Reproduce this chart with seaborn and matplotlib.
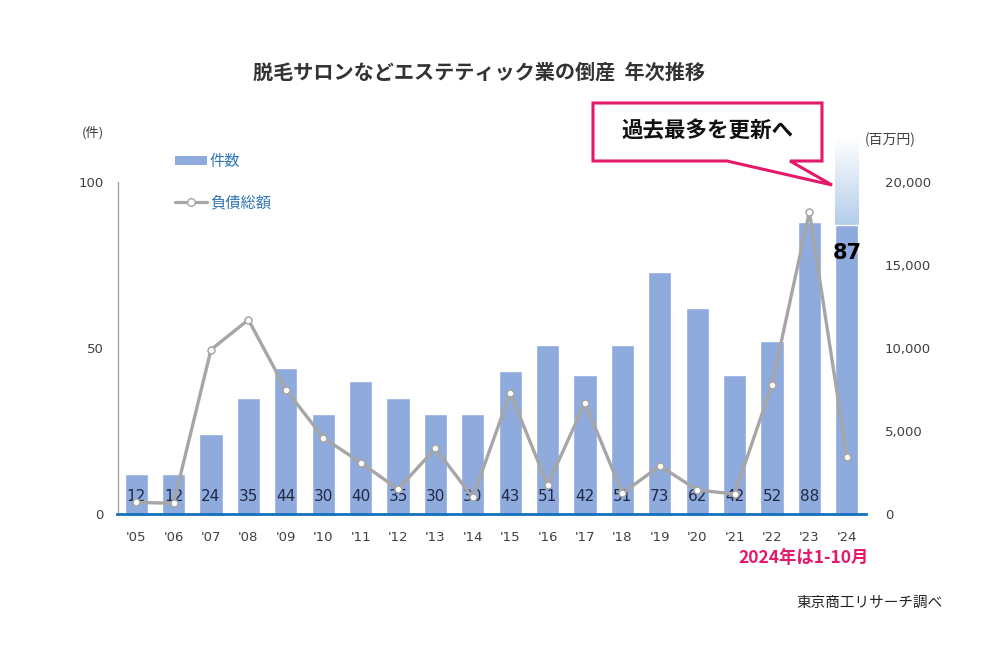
import numpy as np
import pandas as pd
import matplotlib
matplotlib.use("Agg")
import matplotlib.pyplot as plt
from matplotlib.patches import Polygon, Patch
from matplotlib.lines import Line2D
from matplotlib.colors import LinearSegmentedColormap
import seaborn as sns

years = ["'05", "'06", "'07", "'08", "'09", "'10", "'11", "'12", "'13", "'14",
         "'15", "'16", "'17", "'18", "'19", "'20", "'21", "'22", "'23", "'24"]
counts = [12, 12, 24, 35, 44, 30, 40, 35, 30, 30,
          43, 51, 42, 51, 73, 62, 42, 52, 88, 87]
debt = [700, 650, 9900, 11700, 7500, 4600, 3100, 1500, 3950, 1000,
        7300, 1750, 6700, 1250, 2900, 1450, 1200, 7800, 18200, 3450]
left_ticks = [0, 50, 100]
right_ticks = [0, 5000, 10000, 15000, 20000]

df = pd.DataFrame({"year": years, "count": counts, "debt": debt})

sns.set_theme(style="white")
CJK = ["Noto Sans CJK JP", "DejaVu Sans"]
NUM = ["DejaVu Sans", "Noto Sans CJK JP"]
plt.rcParams["font.family"] = CJK

BAR = "#8FAADC"
GRAY = "#A6A6A6"
TXT = "#404040"
PINK = "#E5196A"
LEG = "#2E75B6"

fig = plt.figure(figsize=(10, 6.7), dpi=100)
fig.patch.set_facecolor("white")
ax = fig.add_axes([0.1175, 0.2328, 0.748, 0.4956])

sns.barplot(data=df, x="year", y="count", color=BAR, saturation=1,
            width=0.62, ax=ax, zorder=1)
ax.set_xlim(-0.5, 19.5)
ax.set_ylim(0, 100)
ax.set_yticks(left_ticks)
ax.set_yticklabels([str(t) for t in left_ticks], family=NUM, fontsize=9.5, color=TXT)
ax.set_xticks(range(len(years)))
ax.set_xticklabels(years, family=NUM, fontsize=9.5, color=TXT)
ax.tick_params(axis="both", length=0)
ax.tick_params(axis="x", pad=12)
ax.tick_params(axis="y", pad=10)
ax.set_xlabel("")
ax.set_ylabel("")
for s in ["top", "right"]:
    ax.spines[s].set_visible(False)
ax.spines["left"].set_color(GRAY)
ax.spines["left"].set_linewidth(1.0)
ax.spines["bottom"].set_color("#1070C0")
ax.spines["bottom"].set_linewidth(2.0)
ax.spines["bottom"].set_zorder(5)

patches = ax.patches
for i, (p, c) in enumerate(zip(patches, counts)):
    cx = p.get_x() + p.get_width() / 2
    if i < len(counts) - 1:
        ax.text(cx, 5.2, str(c), ha="center", va="center", fontsize=11,
                color="#1F2A44", family=NUM, zorder=6)
    else:
        ax.text(cx, 78.5, str(c), ha="center", va="center", fontsize=15,
                fontweight="bold", color="black", family=NUM, zorder=6)

# gradient extension above the last bar
last = patches[-1]
grad = np.linspace(0, 1, 256).reshape(-1, 1)
cmap = LinearSegmentedColormap.from_list("g", ["#B3CDEA", "#FFFFFF"])
ax.imshow(grad, cmap=cmap, origin="lower", aspect="auto",
          extent=[last.get_x(), last.get_x() + last.get_width(),
                  last.get_height(), 113], clip_on=False, zorder=0.8)
ax.set_xlim(-0.5, 19.5)
ax.set_ylim(0, 100)

ax2 = ax.twinx()
sns.pointplot(data=df, x="year", y="debt", ax=ax2, color=GRAY, markers="o",
              linewidth=2.4, markersize=5, markerfacecolor="white",
              markeredgecolor=GRAY, markeredgewidth=1.1)
ax2.set_xlim(-0.5, 19.5)
ax2.set_ylim(0, 20000)
ax2.set_yticks(right_ticks)
ax2.set_yticklabels([f"{t:,}" for t in right_ticks], family=NUM, fontsize=9.5, color=TXT)
ax2.tick_params(axis="y", length=0, pad=14)
ax2.set_ylabel("")
ax2.set_xlabel("")
for s in ["top", "right", "left", "bottom"]:
    ax2.spines[s].set_visible(False)
for ln in ax2.lines:
    ln.set_clip_on(False)

# unit labels
fig.text(0.093, 1 - 133 / 670, "(件)", ha="center", va="center", fontsize=9.5, color=TXT)
fig.text(0.890, 1 - 140 / 670, "(百万円)", ha="center", va="center", fontsize=10, color=TXT)

# legend
h1 = Patch(facecolor=BAR, edgecolor="none")
h2 = Line2D([], [], color=GRAY, linewidth=2.3, marker="o", markersize=5.5,
            markerfacecolor="white", markeredgecolor=GRAY)
leg = fig.legend([h1, h2], ["件数", "負債総額"], loc="upper left",
                 bbox_to_anchor=(0.161, 1 - 139 / 670), frameon=False,
                 fontsize=11, labelspacing=1.6, handlelength=2.1,
                 handleheight=0.5, handletextpad=0.2)
for t in leg.get_texts():
    t.set_color(LEG)

# title
fig.text(0.479, 1 - 72 / 670, "脱毛サロンなどエステティック業の倒産  年次推移",
         ha="center", va="center", fontsize=14.5, fontweight="bold", color="#333333")

# callout
pts_px = [(593, 103), (822, 103), (822, 161), (790, 161), (832, 185),
          (727, 161), (593, 161)]
pts = [(x / 1000, 1 - y / 670) for x, y in pts_px]
fig.patches.append(Polygon(pts, closed=True, facecolor="white", edgecolor=PINK,
                           linewidth=2.2, transform=fig.transFigure, zorder=10))
fig.text(0.707, 1 - 131 / 670, "過去最多を更新へ", ha="center", va="center",
         fontsize=15.5, fontweight="bold", color="#111111", zorder=11)

# notes
fig.text(0.804, 1 - 558 / 670, "2024年は1-10月", ha="center", va="center",
         fontsize=12.5, fontweight="bold", color=PINK)
fig.text(0.943, 1 - 603 / 670, "東京商工リサーチ調べ", ha="right", va="center",
         fontsize=10.5, color="#222222")

fig.savefig("out.png", dpi=100, facecolor="white")
